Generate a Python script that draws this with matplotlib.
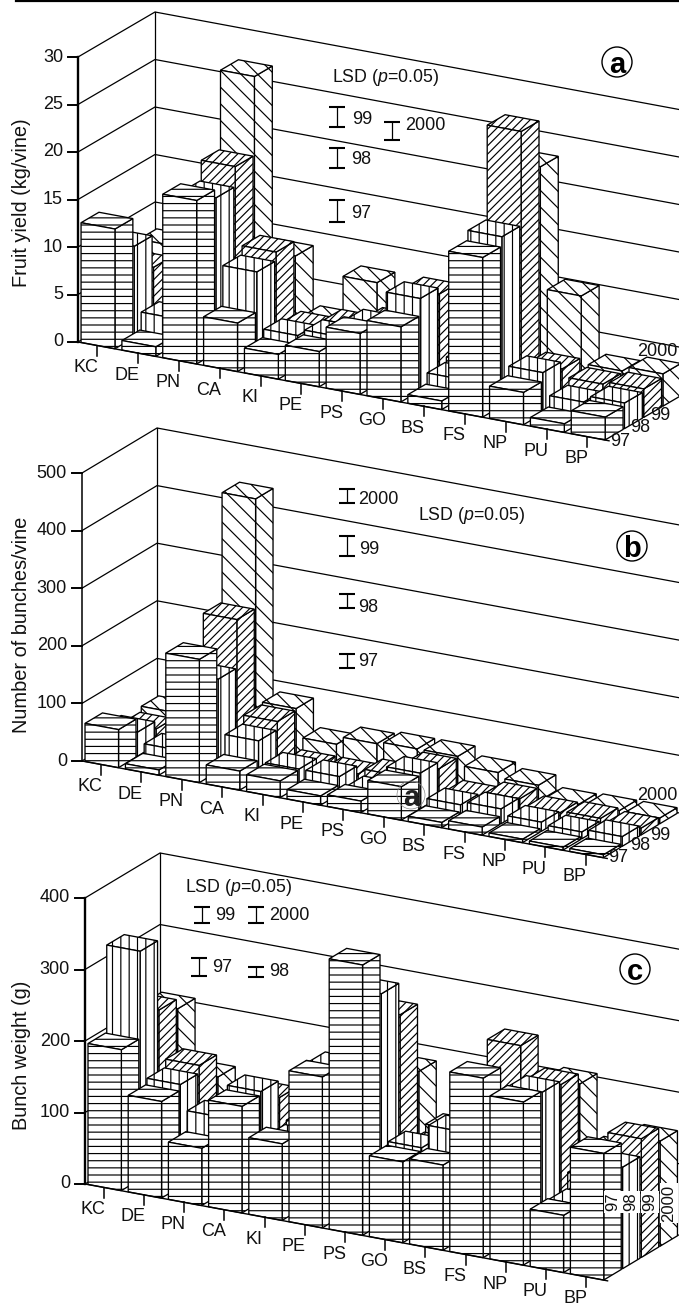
import matplotlib
matplotlib.use("Agg")
import matplotlib.pyplot as plt
from matplotlib import hatch as mhatch
from matplotlib.patches import Polygon, Circle

plt.rcParams['font.family'] = ['Liberation Sans', 'DejaVu Sans']
plt.rcParams['mathtext.fontset'] = 'custom'
plt.rcParams['mathtext.rm'] = 'Liberation Sans'
plt.rcParams['mathtext.it'] = 'Liberation Sans:italic'
plt.rcParams['hatch.linewidth'] = 0.85


# the figure's rows are tighter than the built in '-' spacing
class TightRows(mhatch.HorizontalHatch):
    def __init__(self, hatch, density):
        self.num_lines = hatch.count('-') * 14
        self.num_vertices = self.num_lines * 2


mhatch._hatch_types[mhatch._hatch_types.index(mhatch.HorizontalHatch)] = TightRows

cultivars = ["KC", "DE", "PN", "CA", "KI", "PE", "PS", "GO", "BS", "FS", "NP", "PU", "BP"]
years = ["97", "98", "99", "2000"]

yield_97 = [12.6, 1.0, 17.2, 5.1, 2.6, 3.7, 6.4, 7.9, 0.9, 16.8, 3.4, 0.9, 2.4]
yield_98 = [9.6, 2.8, 16.3, 9.3, 3.4, 4.1, 6.0, 9.7, 2.0, 17.8, 4.3, 2.0, 2.7]
yield_99 = [6.2, 1.0, 18.4, 10.2, 3.0, 4.0, 5.0, 9.0, 2.5, 27.7, 3.5, 2.7, 3.0]
yield_00 = [7.3, 2.0, 26.7, 8.6, 2.4, 7.4, 4.0, 5.6, 2.0, 22.8, 10.0, 2.9, 3.4]

bunches_97 = [66, 9, 214, 33, 29, 16, 20, 58, 9, 14, 6, 5, 5]
bunches_98 = [42, 24, 160, 66, 30, 30, 15, 62, 20, 26, 16, 12, 17]
bunches_99 = [28, 8, 244, 80, 15, 15, 25, 50, 14, 24, 13, 16, 12]
bunches_00 = [37, 10, 434, 83, 34, 48, 52, 52, 37, 28, 8, 10, 10]

weight_97 = [197, 135, 80, 149, 107, 211, 378, 113, 119, 251, 228, 80, 177]
weight_98 = [319, 143, 108, 154, 95, 207, 322, 117, 150, 190, 226, 78, 142]
weight_99 = [221, 154, 90, 130, 100, 190, 277, 100, 90, 265, 221, 100, 166]
weight_00 = [207, 122, 100, 100, 95, 150, 182, 110, 100, 190, 206, 120, 147]

# LSD bar lengths, same unit as the panel
lsd_yield = [2.4, 2.1, 2.1, 1.9]
lsd_bunches = [24, 23, 35, 26]
lsd_weight = [26, 14, 21, 22]

year_hatch = ['-', '||', '////', '\\\\']


def project(p, i, j, z):
    x = p['ox'] + i * p['xv'][0] + j * p['dv'][0] / 4
    y = p['oy'] + i * p['xv'][1] + j * p['dv'][1] / 4 - z * p['zs']
    return (x, y)


def drawWalls(ax, p):
    for z in p['ticks']:
        front = project(p, 0, 0, z)
        back = project(p, 0, 4, z)
        end = project(p, 13, 4, z)
        ax.plot([front[0], back[0], end[0]], [front[1], back[1], end[1]], color='k', lw=0.9, zorder=1)
        ax.plot([front[0] - 10, front[0]], [front[1], front[1]], color='k', lw=1.4, zorder=6)
        ax.text(front[0] - 15, front[1], str(z), ha='right', va='center', fontsize=13, color='#111111', zorder=7)

    bottom = project(p, 0, 4, 0)
    top = project(p, 0, 4, p['ticks'][-1])
    ax.plot([bottom[0], top[0]], [bottom[1], top[1]], color='k', lw=0.9, zorder=1)

    bottom = project(p, 0, 0, 0)
    top = project(p, 0, 0, p['ticks'][-1])
    ax.plot([bottom[0], top[0]], [bottom[1], top[1]], color='k', lw=p['axisWidth'], zorder=6)

    end = project(p, 13, 0, 0)
    ax.plot([bottom[0], end[0]], [bottom[1], end[1]], color='k', lw=1.0, zorder=6)


def drawBar(ax, p, i, j, value):
    i0 = i + 0.07
    i1 = i0 + 0.83
    j0 = j + 0.01
    j1 = j0 + 0.93
    front = [project(p, i0, j0, 0), project(p, i1, j0, 0), project(p, i1, j0, value), project(p, i0, j0, value)]
    side = [project(p, i1, j0, 0), project(p, i1, j1, 0), project(p, i1, j1, value), project(p, i1, j0, value)]
    top = [project(p, i0, j0, value), project(p, i1, j0, value), project(p, i1, j1, value), project(p, i0, j1, value)]
    for face in [side, top, front]:
        ax.add_patch(Polygon(face, closed=True, facecolor='white', edgecolor='k',
                             hatch=year_hatch[j], lw=0.95, zorder=3))


def drawBars(ax, p):
    # back row first, left to right, so nearer bars cover the others
    for j in range(3, -1, -1):
        for i in range(len(cultivars)):
            drawBar(ax, p, i, j, p['series'][j][i])


def drawCultivars(ax, p):
    for i, name in enumerate(cultivars):
        x, y = project(p, i + 0.47, 0, 0)
        ax.plot([x, x], [y, y + 10], color='k', lw=1.1, zorder=6)
        ax.text(x - 11, y + 22, name, ha='center', va='center', fontsize=13, color='#111111', zorder=7)


def drawLsd(ax, p, lsd):
    for (x, y), length in zip(p['lsdPos'], lsd):
        half = length * p['zs'] / 2
        ax.errorbar([x], [y], yerr=[half], color='k', lw=0.9, capsize=6, capthick=1.5, zorder=2)
    for (x, y), label in zip(p['lsdText'], years):
        ax.text(x, y, label, ha='left', va='center', fontsize=13, color='#111111', zorder=2)
    ax.text(p['lsdTitle'][0], p['lsdTitle'][1], r'LSD ($\mathit{p}$=0.05)', ha='left', va='center',
            fontsize=12.8, color='#111111', zorder=2)


def drawBadge(ax, x, y, letter):
    ax.add_patch(Circle((x, y), 15, facecolor='white', edgecolor='k', lw=1.0, zorder=2))
    ax.text(x, y, letter, ha='center', va='center_baseline', fontsize=21, fontweight='bold', color='k', zorder=3)


panelA = {'ox': 78, 'oy': 342, 'xv': (40.85, 7.6), 'dv': (77, -45), 'zs': 9.5, 'ticks': [0, 5, 10, 15, 20, 25, 30],
          'axisWidth': 1.7, 'series': [yield_97, yield_98, yield_99, yield_00],
          'lsdPos': [(337, 211), (337, 158), (337, 117), (392, 131)],
          'lsdText': [(351, 213), (351, 159), (352, 120), (405, 125)], 'lsdTitle': (332, 77)}
panelB = {'ox': 82, 'oy': 761, 'xv': (40.4, 7.5), 'dv': (75, -45), 'zs': 0.576, 'ticks': [0, 100, 200, 300, 400, 500],
          'axisWidth': 1.1, 'series': [bunches_97, bunches_98, bunches_99, bunches_00],
          'lsdPos': [(347, 661), (347, 601), (347, 546), (347, 496)],
          'lsdText': [(358, 661), (358, 607), (359, 549), (358, 500)], 'lsdTitle': (418, 515)}
panelC = {'ox': 85, 'oy': 1184, 'xv': (40.2, 7.45), 'dv': (75, -45), 'zs': 0.715, 'ticks': [0, 100, 200, 300, 400],
          'axisWidth': 1.7, 'series': [weight_97, weight_98, weight_99, weight_00],
          'lsdPos': [(199, 967), (256, 972), (202, 915), (256, 915)],
          'lsdText': [(212, 967), (269, 972), (215, 916), (269, 916)], 'lsdTitle': (185, 887)}

fig = plt.figure(figsize=(6.79, 13.05), dpi=100)
ax = fig.add_axes([0, 0, 1, 1])
ax.set_xlim(0, 679)
ax.set_ylim(1305, 0)
ax.axis('off')

ax.plot([16, 679], [0.5, 0.5], color='k', lw=1.6, zorder=1)

for p, lsd in [(panelA, lsd_yield), (panelB, lsd_bunches), (panelC, lsd_weight)]:
    drawWalls(ax, p)
    drawLsd(ax, p, lsd)
    drawBars(ax, p)
    drawCultivars(ax, p)

ax.text(22, 203, "Fruit yield (kg/vine)", rotation=90, ha='center', va='center', fontsize=14.4, color='#111111')
ax.text(22, 625, "Number of bunches/vine", rotation=90, ha='center', va='center', fontsize=14.4, color='#111111')
ax.text(22, 1055, "Bunch weight (g)", rotation=90, ha='center', va='center', fontsize=14.4, color='#111111')

drawBadge(ax, 617, 62, 'a')
drawBadge(ax, 632, 546, 'b')
drawBadge(ax, 635, 969, 'c')

# stray letter left on the middle panel in the source
ax.add_patch(Circle((411, 795), 14, facecolor='none', edgecolor='#888888', lw=0.5, zorder=8))
ax.text(411, 795, 'a', ha='center', va='center_baseline', fontsize=21, fontweight='bold', color='#222222', zorder=8)

# year labels at the right hand end of the floor
for (x, y), label in zip([(620, 441), (640, 428), (660, 416), (657, 352)], years):
    ax.text(x, y, label, ha='center', va='center', fontsize=13, color='#111111', zorder=8)
for (x, y), label in zip([(618, 858), (640, 845), (660, 836), (657, 795)], years):
    ax.text(x, y, label, ha='center', va='center', fontsize=13, color='#111111', zorder=8)
for (x, y), label in zip([(613, 1202), (631, 1202), (650, 1202), (669, 1203)], years):
    ax.text(x, y, label, rotation=90, ha='center', va='center', fontsize=12, color='#111111', zorder=8,
            bbox=dict(facecolor='white', edgecolor='none', pad=1))

fig.savefig('out.png', dpi=100)
